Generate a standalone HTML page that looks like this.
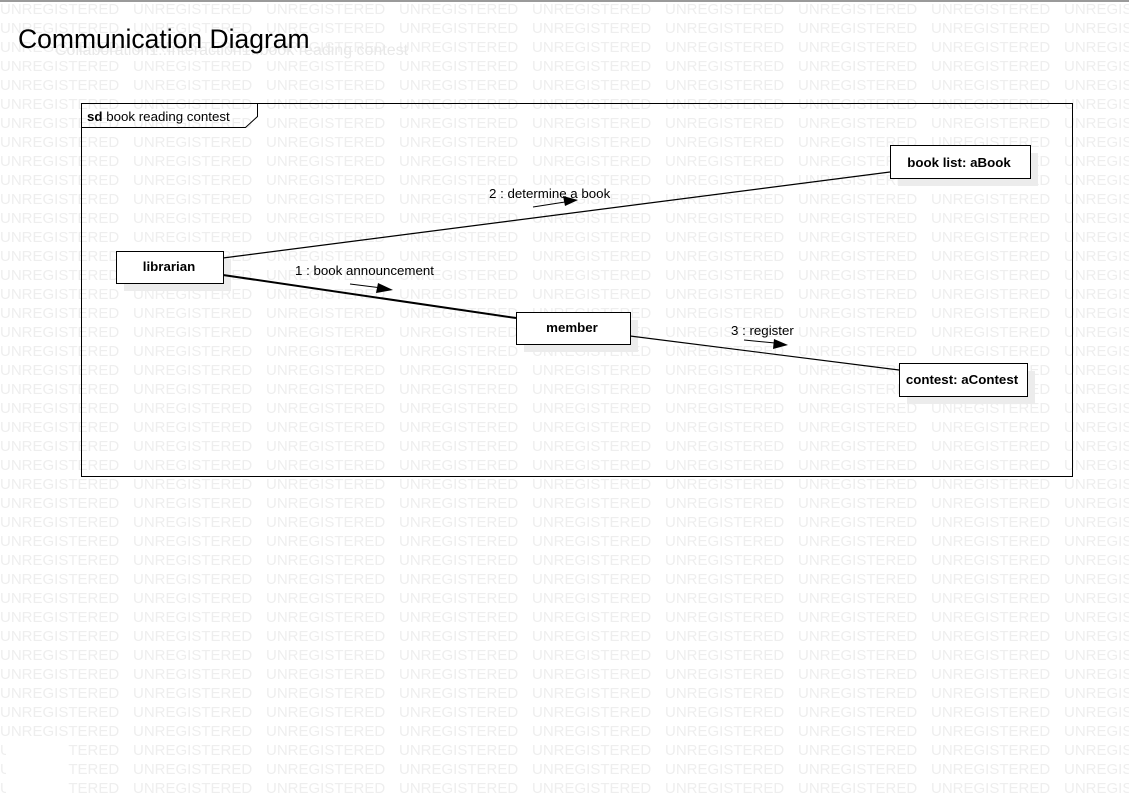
<!DOCTYPE html>
<html><head><meta charset="utf-8"><style>
html,body{margin:0;padding:0;background:#fff;width:1129px;height:801px;overflow:hidden}
svg{display:block;font-family:"Liberation Sans",Arial,sans-serif}
</style></head><body>
<svg width="1129" height="801" viewBox="0 0 1129 801" xmlns="http://www.w3.org/2000/svg">
<defs>
<pattern id="wm" x="0" y="0" width="133" height="19" patternUnits="userSpaceOnUse">
<text x="0" y="14" font-size="15" fill="#eeeeee">UNREGISTERED</text>
</pattern>
</defs>
<rect width="1129" height="801" fill="#fff"/>
<rect width="1129" height="801" fill="url(#wm)"/>
<rect x="0" y="0" width="1129" height="2" fill="#9a9a9a"/>
<text x="55" y="55" font-size="16" fill="#e8e8e8">Collaboration1::Interaction1::book reading contest</text>
<text x="18" y="48" font-size="26.5" fill="#000">Communication Diagram</text>
<!-- frame -->
<rect x="81.5" y="103.5" width="991" height="373" fill="none" stroke="#000" stroke-width="1"/>
<polyline points="81.5,127.5 245.5,127.5 257.5,116.5 257.5,103.5" fill="none" stroke="#000"/>
<text x="87" y="121" font-size="13.3"><tspan font-weight="bold">sd</tspan> book reading contest</text>
<!-- shadows -->
<rect x="124" y="259" width="107" height="32" fill="#ececec"/>
<rect x="524" y="320" width="114" height="32" fill="#ececec"/>
<rect x="898" y="153" width="140" height="33" fill="#ececec"/>
<rect x="907" y="371" width="128" height="33" fill="#ececec"/>
<!-- lines -->
<line x1="223" y1="258" x2="890" y2="172" stroke="#000" stroke-width="1.2"/>
<line x1="223" y1="275" x2="516" y2="318" stroke="#000" stroke-width="2"/>
<line x1="630" y1="336" x2="899" y2="370" stroke="#000" stroke-width="1.2"/>
<!-- arrows -->
<line x1="350" y1="284" x2="382" y2="288" stroke="#000"/>
<polygon points="393,290 378,283 376,293" fill="#000"/>
<line x1="533" y1="207" x2="565" y2="202" stroke="#000"/>
<polygon points="578,200 563,196 565,206" fill="#000"/>
<line x1="744" y1="340" x2="775" y2="343" stroke="#000"/>
<polygon points="788,345 774,339 773,349" fill="#000"/>
<text x="295" y="275" font-size="13.3">1 : book announcement</text>
<text x="489" y="198" font-size="13.3">2 : determine a book</text>
<text x="731" y="335" font-size="13.3">3 : register</text>
<!-- nodes -->
<rect x="116.5" y="251.5" width="107" height="32" fill="#fff" stroke="#000"/>
<text x="169" y="271" font-size="13.3" font-weight="bold" text-anchor="middle">librarian</text>
<rect x="516.5" y="312.5" width="114" height="32" fill="#fff" stroke="#000"/>
<text x="572" y="332" font-size="13.3" font-weight="bold" text-anchor="middle">member</text>
<rect x="890.5" y="145.5" width="140" height="33" fill="#fff" stroke="#000"/>
<text x="959" y="167" font-size="13.3" font-weight="bold" text-anchor="middle">book list: aBook</text>
<rect x="899.5" y="363.5" width="128" height="33" fill="#fff" stroke="#000"/>
<text x="962" y="384" font-size="13.3" font-weight="bold" text-anchor="middle">contest: aContest</text>
<rect x="6" y="744" width="62" height="50" fill="#fff"/>
</svg>
</body></html>
